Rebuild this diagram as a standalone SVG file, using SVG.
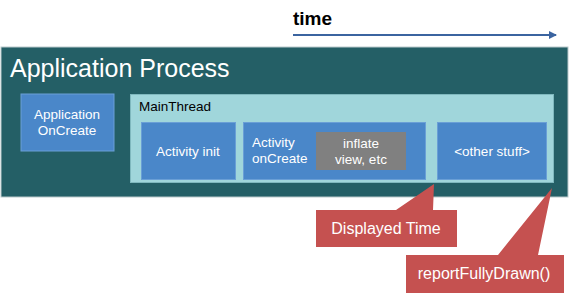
<svg xmlns="http://www.w3.org/2000/svg" width="569" height="293" viewBox="0 0 569 293">
<defs>
<style>
.t{font-family:"Liberation Sans",Arial,sans-serif;fill:#fff;font-size:13.5px}
.c{font-size:16px}
.blue{fill:#4a87c9;stroke:#6a9fd6;stroke-width:1}
.red{fill:#c55150}
</style>
<marker id="ah" markerWidth="8" markerHeight="8" refX="7" refY="4" orient="auto" markerUnits="userSpaceOnUse">
<path d="M0,0 L8,4 L0,8 Z" fill="#3b64a0"/>
</marker>
</defs>
<rect width="569" height="293" fill="#fff"/>
<g id="time">
<text x="293" y="25" font-family="Liberation Sans,sans-serif" font-weight="bold" font-size="19" fill="#000">time</text>
</g>
<g id="connectors">
<line x1="293" y1="35" x2="556" y2="35" stroke="#3b64a0" stroke-width="2" marker-end="url(#ah)"/>
</g>
<g id="process">
<rect x="1" y="47" width="567" height="150" fill="#245f66" stroke="#b9c9cb" stroke-width="1"/>
<text x="10" y="77" class="t" style="font-size:25px">Application Process</text>
</g>
<g id="appOnCreate">
<rect x="21" y="94" width="93" height="57" class="blue"/>
<text x="67" y="119" class="t" text-anchor="middle">Application</text>
<text x="67" y="135" class="t" text-anchor="middle">OnCreate</text>
</g>
<g id="mainThread">
<rect x="130.5" y="94.5" width="423" height="88" fill="#a0d6db" stroke="#7fb8be" stroke-width="1"/>
<text x="139" y="111" class="t" style="fill:#000">MainThread</text>
</g>
<g id="activityInit">
<rect x="141.5" y="122.5" width="94" height="57" class="blue"/>
<text x="188" y="156" class="t" text-anchor="middle">Activity init</text>
</g>
<g id="activityOnCreate">
<rect x="243.5" y="122.5" width="182" height="57" class="blue"/>
<text x="252" y="147" class="t">Activity</text>
<text x="252" y="163" class="t">onCreate</text>
</g>
<g id="inflate">
<rect x="316" y="132" width="90" height="38" fill="#808080"/>
<text x="361" y="148" class="t" text-anchor="middle">inflate</text>
<text x="361" y="164" class="t" text-anchor="middle">view, etc</text>
</g>
<g id="otherStuff">
<rect x="437.5" y="122.5" width="109" height="57" class="blue"/>
<text x="492" y="156" class="t" text-anchor="middle">&lt;other stuff&gt;</text>
</g>
<g id="displayedTime">
<path d="M316,210 L396,210 L434,184 L433,210 L457,210 L457,247 L316,247 Z" class="red"/>
<text x="386" y="234" class="t c" text-anchor="middle">Displayed Time</text>
</g>
<g id="reportFullyDrawn">
<path d="M406,255 L498,255 L552,188 L538,255 L564,255 L564,293 L406,293 Z" class="red"/>
<text x="484" y="279" class="t c" text-anchor="middle">reportFullyDrawn()</text>
</g>
</svg>
